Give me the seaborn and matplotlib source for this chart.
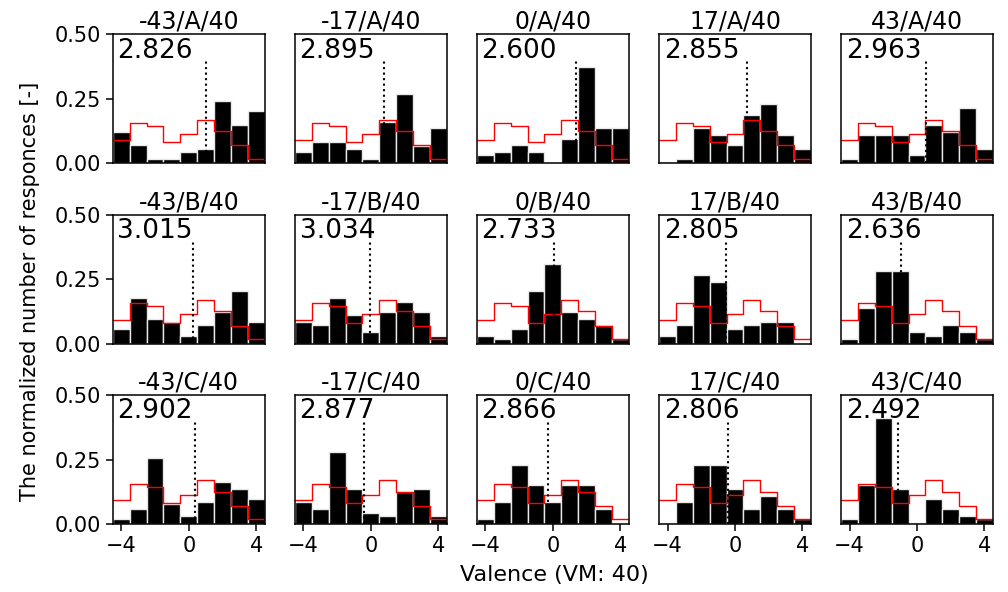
import numpy as np
import pandas as pd
import matplotlib
matplotlib.use("Agg")
import matplotlib.pyplot as plt
import seaborn as sns

# valence scale and panel labels
valence = [-4, -3, -2, -1, 0, 1, 2, 3, 4]
angles = ["-43", "-17", "0", "17", "43"]
groups = ["A", "B", "C"]
vm = "40"

# reference distribution (red step line, same in every panel)
reference_dist = [0.091, 0.156, 0.145, 0.081, 0.114, 0.169, 0.125, 0.069, 0.018]

# normalized responses per panel, rows = groups, cols = angles
resp_A = [
    [0.122, 0.069, 0.016, 0.016, 0.043, 0.055, 0.243, 0.149, 0.201],
    [0.042, 0.082, 0.082, 0.055, 0.016, 0.161, 0.269, 0.068, 0.135],
    [0.030, 0.043, 0.069, 0.043, 0.000, 0.095, 0.373, 0.135, 0.135],
    [0.004, 0.016, 0.135, 0.109, 0.069, 0.188, 0.229, 0.109, 0.055],
    [0.016, 0.109, 0.109, 0.109, 0.030, 0.149, 0.122, 0.216, 0.055],
]
resp_B = [
    [0.057, 0.177, 0.097, 0.083, 0.031, 0.071, 0.124, 0.204, 0.084],
    [0.084, 0.071, 0.177, 0.110, 0.044, 0.124, 0.163, 0.124, 0.031],
    [0.031, 0.016, 0.057, 0.204, 0.307, 0.124, 0.097, 0.071, 0.016],
    [0.031, 0.071, 0.267, 0.240, 0.057, 0.071, 0.084, 0.084, 0.000],
    [0.018, 0.137, 0.280, 0.280, 0.044, 0.031, 0.071, 0.044, 0.018],
]
resp_C = [
    [0.018, 0.058, 0.254, 0.078, 0.031, 0.084, 0.163, 0.137, 0.098],
    [0.084, 0.058, 0.281, 0.137, 0.044, 0.031, 0.124, 0.137, 0.031],
    [0.018, 0.084, 0.229, 0.150, 0.084, 0.150, 0.150, 0.058, 0.000],
    [0.005, 0.084, 0.229, 0.229, 0.137, 0.058, 0.110, 0.058, 0.018],
    [0.018, 0.150, 0.412, 0.137, 0.005, 0.098, 0.058, 0.031, 0.018],
]

# mean valence (dotted line) and value printed in each panel
means_A = [1.04, 0.80, 1.35, 0.73, 0.53]
means_B = [0.23, -0.07, 0.08, -0.56, -0.97]
means_C = [0.37, -0.43, -0.29, -0.42, -1.13]
scores_A = ["2.826", "2.895", "2.600", "2.855", "2.963"]
scores_B = ["3.015", "3.034", "2.733", "2.805", "2.636"]
scores_C = ["2.902", "2.877", "2.866", "2.806", "2.492"]

responses = [resp_A, resp_B, resp_C]
means = [means_A, means_B, means_C]
scores = [scores_A, scores_B, scores_C]

sns.set_style("ticks")
plt.rcParams["font.family"] = ["DejaVu Sans"]
plt.rcParams["text.color"] = "black"
plt.rcParams["axes.labelcolor"] = "black"

fig, axes = plt.subplots(3, 5, figsize=(10.08, 5.92), dpi=100)
fig.subplots_adjust(left=0.112, right=0.985, top=0.942, bottom=0.115,
                    wspace=0.2, hspace=0.4)

for r, g in enumerate(groups):
    for c, a in enumerate(angles):
        ax = axes[r, c]
        df = pd.DataFrame({"valence": valence, "resp": responses[r][c],
                           "ref": reference_dist})
        sns.histplot(data=df, x="valence", weights="resp", discrete=True,
                     color="black", edgecolor="#e8e8e8", linewidth=1,
                     alpha=1, ax=ax)
        sns.histplot(data=df, x="valence", weights="ref", discrete=True,
                     element="step", fill=False, color="red", linewidth=1,
                     ax=ax)
        ax.vlines(means[r][c], 0, 0.4, colors="black", linestyles=":",
                  linewidth=1.5)
        ax.text(0.03, 0.975, scores[r][c], transform=ax.transAxes,
                ha="left", va="top", fontsize=19, color="black")
        ax.set_title(f"{a}/{g}/{vm}", fontsize=17, pad=4, color="black")
        ax.set_xlim(-4.5, 4.5)
        ax.set_ylim(0, 0.5)
        ax.set_xlabel("")
        ax.set_ylabel("")
        for s in ax.spines.values():
            s.set_color("black")
            s.set_linewidth(1.1)
        ax.set_xticks([-4, 0, 4])
        ax.set_yticks([0, 0.25, 0.5])
        ax.set_yticklabels(["0.00", "0.25", "0.50"])
        ax.tick_params(labelsize=15, colors="black", width=1.1, length=5)
        if r < 2:
            ax.tick_params(bottom=False, labelbottom=False)
        if c > 0:
            ax.tick_params(left=False, labelleft=False)

fig.text(0.55, 0.012, "Valence (VM: 40)", ha="center", va="bottom",
         fontsize=16)
fig.text(0.03, 0.507, "The normalized number of responces [-]",
         ha="center", va="center", rotation=90, fontsize=15)

fig.savefig("out.png", dpi=100)
